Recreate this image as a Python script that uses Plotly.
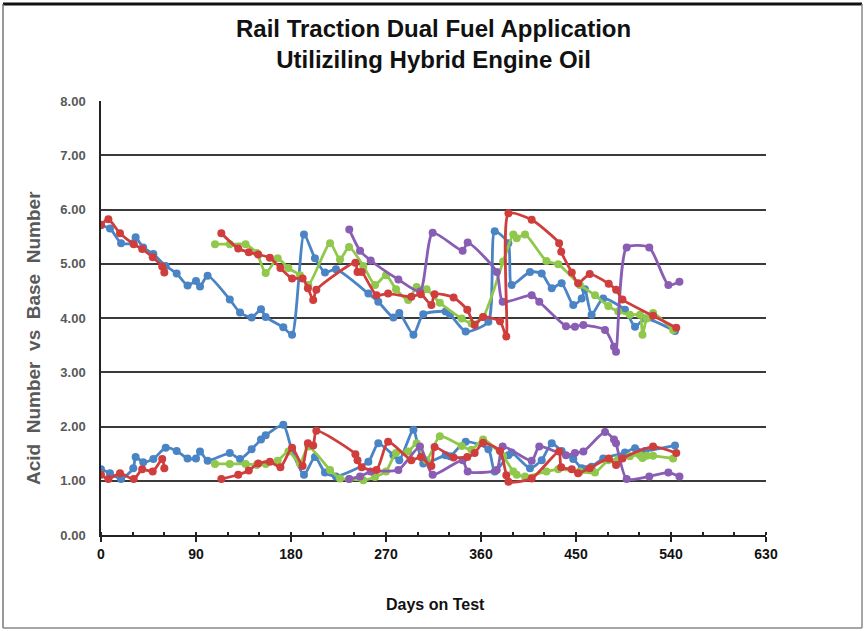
import plotly.graph_objects as go

# ---------------- data (days on test, base number TBN, acid number TAN) ----------------
blue_days = [0, 8.5, 19, 30.6, 32.8, 40, 49.6, 61.3, 71.7, 82, 90, 93.8, 101, 122, 131.7, 142.7,
             151.6, 156, 172.7, 181, 192.3, 202.7, 212.2, 222.6, 253.3, 262.7, 277, 282.6, 296,
             305.3, 326.5, 330.6, 345.5, 367, 373, 385.9, 389, 406.4, 417.5, 427, 436.4, 447.4,
             455.4, 458.5, 464.8, 475.8, 496.4, 505.9, 515.4, 543.8]
blue_tbn = [5.71, 5.65, 5.38, 5.38, 5.49, 5.30, 5.18, 4.96, 4.82, 4.60, 4.68, 4.58, 4.78, 4.34,
            4.10, 4.01, 4.16, 4.02, 3.83, 3.69, 5.54, 5.10, 4.84, 4.90, 4.45, 4.30, 4.01, 4.09,
            3.69, 4.07, 4.12, 4.07, 3.75, 3.93, 5.60, 5.38, 4.61, 4.85, 4.82, 4.55, 4.64, 4.24,
            4.36, 4.53, 4.06, 4.36, 4.15, 3.84, 3.99, 3.76]
blue_tan = [1.21, 1.14, 1.03, 1.23, 1.44, 1.34, 1.40, 1.61, 1.55, 1.41, 1.41, 1.54, 1.37, 1.51,
            1.40, 1.58, 1.76, 1.84, 2.03, 1.55, 1.11, 1.44, 1.15, 1.08, 1.35, 1.69, 1.47, 1.38,
            1.94, 1.32, 1.47, 1.45, 1.72, 1.58, 1.17, 1.47, 1.52, 1.23, 1.38, 1.69, 1.55, 1.40,
            1.23, 1.21, 1.26, 1.41, 1.52, 1.60, 1.55, 1.65]

red_a_days = [0, 7, 18, 31, 39, 49, 58, 60]
red_a_tbn = [5.72, 5.82, 5.56, 5.36, 5.27, 5.12, 4.95, 4.84]
red_a_tan = [1.11, 1.03, 1.14, 1.03, 1.21, 1.17, 1.40, 1.23]

red_b_days = [114, 130, 140, 149, 160, 170, 181, 191, 196, 201, 204, 241, 243, 247, 261, 272,
              294, 303, 313, 316, 334, 347, 354, 362, 378, 384, 386, 408, 434, 436, 446, 452,
              463, 481, 488, 494, 523, 545]
red_b_tbn = [5.56, 5.28, 5.21, 5.17, 5.11, 4.92, 4.73, 4.73, 4.55, 4.33, 4.52, 5.02, 4.85, 4.85,
             4.42, 4.45, 4.39, 4.44, 4.24, 4.44, 4.38, 4.15, 3.87, 4.02, 3.94, 3.66, 5.93, 5.81,
             5.38, 5.22, 4.84, 4.64, 4.81, 4.63, 4.52, 4.34, 4.04, 3.82]
red_b_tan = [1.03, 1.11, 1.19, 1.32, 1.35, 1.25, 1.61, 1.27, 1.69, 1.65, 1.92, 1.49, 1.38, 1.25,
             1.20, 1.72, 1.38, 1.44, 1.27, 1.62, 1.43, 1.44, 1.51, 1.70, 1.55, 1.10, 0.98, 1.04,
             1.54, 1.25, 1.21, 1.14, 1.23, 1.41, 1.29, 1.41, 1.63, 1.51]

green_days = [108, 122, 137, 147.5, 156, 167.4, 177.5, 188.5, 196.4, 217, 226.4, 235, 248.5,
              259.6, 270, 279.5, 291, 299, 308.5, 321, 341.7, 351, 362, 381, 390.6, 393.8, 401.7,
              422, 433.2, 453.7, 468, 480.6, 490, 501, 510.6, 513, 517, 523, 542]
green_tbn = [5.36, 5.36, 5.36, 5.20, 4.83, 5.10, 4.92, 4.79, 4.61, 5.38, 5.08, 5.31, 4.96, 4.61,
             4.79, 4.53, 4.33, 4.57, 4.53, 4.28, 3.99, 3.90, 4.02, 5.04, 5.54, 5.47, 5.54, 5.05,
             4.99, 4.61, 4.42, 4.22, 4.12, 4.06, 4.06, 3.69, 3.99, 4.09, 3.78]
green_tan = [1.31, 1.31, 1.31, 1.29, 1.31, 1.37, 1.54, 1.32, 1.63, 1.20, 1.04, 1.03, 1.01, 1.07,
             1.17, 1.51, 1.54, 1.69, 1.38, 1.82, 1.64, 1.57, 1.76, 1.45, 1.17, 1.11, 1.08, 1.17,
             1.21, 1.17, 1.15, 1.38, 1.40, 1.45, 1.47, 1.42, 1.46, 1.46, 1.41]

purple_days = [235.2, 245.4, 255.5, 281.7, 302.2, 314.2, 342.6, 347.4, 374.9, 380.5, 408, 415.2,
               440.5, 449, 457, 477.5, 486, 487.9, 498, 519.4, 537.5, 548]
purple_tbn = [5.63, 5.24, 5.06, 4.71, 4.49, 5.57, 5.24, 5.39, 4.85, 4.30, 4.42, 4.30, 3.85, 3.84,
              3.87, 3.78, 3.47, 3.38, 5.30, 5.30, 4.61, 4.67]
purple_tan = [1.03, 1.08, 1.17, 1.20, 1.63, 1.11, 1.38, 1.17, 1.20, 1.63, 1.37, 1.63, 1.47, 1.51,
              1.54, 1.90, 1.76, 1.69, 1.03, 1.08, 1.15, 1.08]

x_ticks = [0, 90, 180, 270, 360, 450, 540, 630]
y_ticks = [0, 1, 2, 3, 4, 5, 6, 7, 8]

BLUE, RED, GREEN, PURPLE = "#4A84C4", "#CF3D3D", "#8FC84A", "#8A5DB4"

series = [
    (blue_days, blue_tbn, BLUE), (blue_days, blue_tan, BLUE),
    (green_days, green_tbn, GREEN), (green_days, green_tan, GREEN),
    (purple_days, purple_tbn, PURPLE), (purple_days, purple_tan, PURPLE),
    (red_a_days, red_a_tbn, RED), (red_a_days, red_a_tan, RED),
    (red_b_days, red_b_tbn, RED), (red_b_days, red_b_tan, RED),
]

fig = go.Figure()
for xs, ys, col in series:
    fig.add_trace(go.Scatter(
        x=xs, y=ys, mode="lines+markers",
        line=dict(color=col, width=2.8, shape="spline", smoothing=0.6),
        marker=dict(color=col, size=8),
        showlegend=False, hoverinfo="skip"))

# plot area in pixels: x 101..766, y 101..535
L, R, T, B = 101, 766, 101, 535
W, H = 864, 631
def px(x):
    return (x - L) / (R - L)
def py(y):
    return (B - y) / (B - T)

fig.update_layout(
    width=W, height=H, autosize=False,
    margin=dict(l=L, r=W - R, t=T, b=H - B, pad=0),
    paper_bgcolor="white", plot_bgcolor="white",
    font=dict(family="Liberation Sans, Arial, sans-serif"),
    showlegend=False,
    xaxis=dict(range=[0, 630], tickvals=x_ticks, ticktext=[str(v) for v in x_ticks],
               showgrid=False, zeroline=False, showline=True, linecolor="#222", linewidth=1.5,
               ticks="outside", ticklen=5, tickwidth=1.5, tickcolor="#222",
               minor=dict(dtick=30, ticks="inside", ticklen=3, tickwidth=1.5, tickcolor="#222"),
               tickfont=dict(size=14, color="#111", family="Liberation Sans, Arial", weight="bold"),
               fixedrange=True),
    yaxis=dict(range=[0, 8], tickvals=y_ticks, ticktext=[f"{v:.2f}" for v in y_ticks],
               showgrid=True, gridcolor="#3a3a3a", gridwidth=1.8,
               zeroline=False, showline=True, linecolor="#222", linewidth=1.5,
               ticks="", ticklabelstandoff=11,
               tickfont=dict(size=13, color="#595959", family="Liberation Sans, Arial", weight="bold"),
               fixedrange=True),
    annotations=[
        dict(text="Rail Traction Dual Fuel Application<br>Utiliziling Hybrid Engine Oil",
             x=px(433.5), y=py(44), xref="paper", yref="paper", showarrow=False,
             xanchor="center", yanchor="middle",
             font=dict(size=24, color="#111", family="Liberation Sans, Arial", weight="bold")),
        dict(text="Acid\u00a0\u00a0Number\u00a0\u00a0vs\u00a0\u00a0Base\u00a0\u00a0Number",
             x=px(33), y=py(338), xref="paper", yref="paper", showarrow=False, textangle=-90,
             xanchor="center", yanchor="middle",
             font=dict(size=19, color="#595959", family="Liberation Sans, Arial", weight="bold")),
        dict(text="Days on Test", x=px(435), y=py(604), xref="paper", yref="paper",
             showarrow=False, xanchor="center", yanchor="middle",
             font=dict(size=16, color="#111", family="Liberation Sans, Arial", weight="bold")),
    ],
    shapes=[
        dict(type="line", xref="paper", yref="paper", x0=px(3), x1=px(862), y0=py(4), y1=py(4),
             line=dict(color="#111", width=3)),
        dict(type="line", xref="paper", yref="paper", x0=px(3), x1=px(3), y0=py(4), y1=py(628),
             line=dict(color="#777", width=1.5)),
        dict(type="line", xref="paper", yref="paper", x0=px(862), x1=px(862), y0=py(4), y1=py(628),
             line=dict(color="#888", width=1.5)),
        dict(type="line", xref="paper", yref="paper", x0=px(3), x1=px(862), y0=py(628), y1=py(628),
             line=dict(color="#888", width=1.5)),
    ],
)

fig.write_html("out.html")
